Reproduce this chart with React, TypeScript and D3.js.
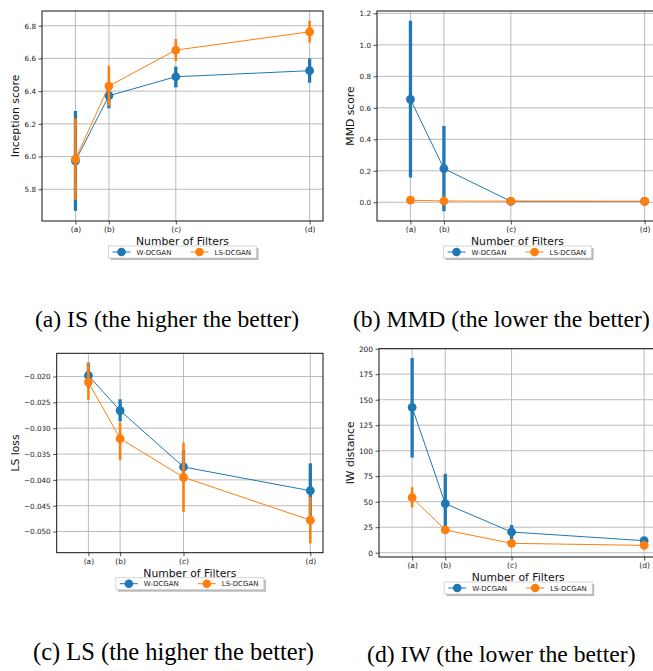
import React, { useEffect, useRef } from 'react';
import * as d3 from 'd3';

// x categories: number of filters
const filterLabels = ['(a)', '(b)', '(c)', '(d)'];
const filterX = [1, 2, 4, 8];
const seriesNames = ['W-DCGAN', 'LS-DCGAN'];

// (a) Inception score
const isW = [5.973, 6.372, 6.488, 6.525];
const isWLo = [5.668, 6.295, 6.423, 6.452];
const isWHi = [6.279, 6.45, 6.55, 6.6];
const isLS = [5.985, 6.431, 6.651, 6.763];
const isLSLo = [5.735, 6.31, 6.584, 6.696];
const isLSHi = [6.234, 6.556, 6.719, 6.83];

// (b) MMD score
const mmdW = [0.654, 0.214, 0.006, 0.006];
const mmdWLo = [0.157, -0.057, -0.004, -0.002];
const mmdWHi = [1.153, 0.485, 0.016, 0.012];
const mmdLS = [0.013, 0.008, 0.007, 0.005];
const mmdLSLo = [0.006, 0.003, 0.003, 0.002];
const mmdLSHi = [0.02, 0.013, 0.011, 0.008];

// (c) LS loss
const lsW = [-0.0198, -0.0266, -0.0375, -0.0421];
const lsWLo = [-0.0222, -0.0287, -0.0404, -0.0472];
const lsWHi = [-0.0173, -0.0244, -0.0342, -0.0368];
const lsLS = [-0.0211, -0.032, -0.0395, -0.0478];
const lsLSLo = [-0.0245, -0.0362, -0.0462, -0.0523];
const lsLSHi = [-0.0174, -0.0289, -0.0328, -0.0433];

// (d) IW distance
const iwW = [142.4, 48.1, 20.3, 11.8];
const iwWLo = [93.3, 25.5, 13.4, 9];
const iwWHi = [190.8, 77.3, 27.2, 14.5];
const iwLS = [54, 22.3, 9.2, 7.2];
const iwLSLo = [44.2, 18.3, 7.5, 5.8];
const iwLSHi = [64.2, 25.5, 11, 8.6];

// y tick values
const isTicks = [5.8, 6.0, 6.2, 6.4, 6.6, 6.8];
const mmdTicks = [0.0, 0.2, 0.4, 0.6, 0.8, 1.0, 1.2];
const lsTicks = [-0.05, -0.045, -0.04, -0.035, -0.03, -0.025, -0.02];
const iwTicks = [0, 25, 50, 75, 100, 125, 150, 175, 200];

const colors = ['#1f77b4', '#ff7f0e'];

const panels = [
  {
    box: { l: 42, t: 11, r: 323, b: 221 }, yDomain: [5.606, 6.89], ticks: isTicks, fmt: d3.format('.1f'),
    yLabel: 'Inception score', yLabelX: 15, tickSize: 7.2,
    series: [[isW, isWLo, isWHi], [isLS, isLSLo, isLSHi]],
    caption: '(a) IS (the higher the better)', cap: { x: 35, y: 327, s: 23.6 },
  },
  {
    box: { l: 377, t: 11, r: 658, b: 221 }, yDomain: [-0.119, 1.215], ticks: mmdTicks, fmt: d3.format('.1f'),
    yLabel: 'MMD score', yLabelX: 350, tickSize: 7.2,
    series: [[mmdW, mmdWLo, mmdWHi], [mmdLS, mmdLSLo, mmdLSHi]],
    caption: '(b) MMD (the lower the better)', cap: { x: 353, y: 327, s: 23.6 },
  },
  {
    box: { l: 56.7, t: 353.3, r: 323, b: 552.7 }, yDomain: [-0.0541, -0.0155], ticks: lsTicks, fmt: d3.format('.3f'),
    yLabel: 'LS loss', yLabelX: 15, tickSize: 7.2,
    series: [[lsW, lsWLo, lsWHi], [lsLS, lsLSLo, lsLSHi]],
    caption: '(c) LS (the higher the better)', cap: { x: 33, y: 660, s: 24.5 },
  },
  {
    box: { l: 379, t: 348.7, r: 657.4, b: 557 }, yDomain: [-4.2, 200], ticks: iwTicks, fmt: d3.format('d'),
    yLabel: 'IW distance', yLabelX: 350, tickSize: 7.4,
    series: [[iwW, iwWLo, iwWHi], [iwLS, iwLSLo, iwLSHi]],
    caption: '(d) IW (the lower the better)', cap: { x: 367, y: 662, s: 23.7 },
  },
];

export default function App() {
  const ref = useRef<SVGSVGElement>(null);

  useEffect(() => {
    const svg = d3.select(ref.current);
    svg.selectAll('*').remove();
    const font = '"DejaVu Sans", sans-serif';

    panels.forEach((p) => {
      const { l, t, r, b } = p.box;
      const x = d3.scaleLinear().domain([0, 8.4]).range([l, r]);
      const y = d3.scaleLinear().domain(p.yDomain).range([b, t]);
      const g = svg.append('g');

      // grid
      g.selectAll('.gx').data(filterX).join('line')
        .attr('x1', (d) => x(d)).attr('x2', (d) => x(d)).attr('y1', t).attr('y2', b)
        .attr('stroke', '#b0b0b0').attr('stroke-width', 1).attr('opacity', 0.85);
      g.selectAll('.gy').data(p.ticks).join('line')
        .attr('x1', l).attr('x2', r).attr('y1', (d) => y(d)).attr('y2', (d) => y(d))
        .attr('stroke', '#b0b0b0').attr('stroke-width', 1).attr('opacity', 0.85);

      // axes
      const ax = g.append('g').attr('transform', `translate(0,${b})`)
        .call(d3.axisBottom(x).tickValues(filterX).tickFormat((_, i) => filterLabels[i]).tickSize(3.5).tickPadding(2));
      ax.selectAll('text').attr('font-size', 7.5).attr('font-family', font).attr('fill', '#222');
      const ay = g.append('g').attr('transform', `translate(${l},0)`)
        .call(d3.axisLeft(y).tickValues(p.ticks).tickFormat((d) => p.fmt(d as number).replace('-', '\u2212')).tickSize(3.5).tickPadding(2.5));
      ay.selectAll('text').attr('font-size', p.tickSize).attr('font-family', font).attr('fill', '#222');
      [ax, ay].forEach((a) => {
        a.select('.domain').remove();
        a.selectAll('line').attr('stroke', '#222').attr('stroke-width', 0.8);
      });

      // series
      p.series.forEach(([mean, lo, hi], si) => {
        const pts = mean.map((v, i) => [x(filterX[i]), y(v)] as [number, number]);
        g.append('path').attr('d', d3.line()(pts)).attr('fill', 'none')
          .attr('stroke', colors[si]).attr('stroke-width', 1);
        g.selectAll(null).data(mean).join('line')
          .attr('x1', (_, i) => x(filterX[i])).attr('x2', (_, i) => x(filterX[i]))
          .attr('y1', (_, i) => y(lo[i])).attr('y2', (_, i) => y(hi[i]))
          .attr('stroke', colors[si]).attr('stroke-width', si === 0 ? 3.3 : 2.6);
        g.selectAll(null).data(mean).join('circle')
          .attr('cx', (_, i) => x(filterX[i])).attr('cy', (d) => y(d)).attr('r', 4.4)
          .attr('fill', colors[si]);
      });

      // spines
      g.append('rect').attr('x', l).attr('y', t).attr('width', r - l).attr('height', b - t)
        .attr('fill', 'none').attr('stroke', '#111').attr('stroke-width', 1);

      // labels
      g.append('text').attr('x', (l + r) / 2).attr('y', b + 24).attr('text-anchor', 'middle')
        .attr('font-family', font).attr('font-size', 10.8).attr('fill', '#111').text('Number of Filters');
      g.append('text').attr('transform', `translate(${p.yLabelX + 4},${(t + b) / 2}) rotate(-90)`)
        .attr('text-anchor', 'middle').attr('font-family', font).attr('font-size', 10.8).attr('fill', '#111')
        .text(p.yLabel);

      // legend
      const lw = 148, lh = 12;
      const lx = (l + r) / 2 - lw / 2, ly = b + 25;
      const lg = g.append('g').attr('transform', `translate(${lx},${ly})`);
      lg.append('rect').attr('x', 2).attr('y', 2).attr('width', lw).attr('height', lh).attr('fill', '#8a8a8a').attr('opacity', 0.6);
      lg.append('rect').attr('width', lw).attr('height', lh).attr('fill', '#fff').attr('stroke', '#ccc').attr('stroke-width', 0.8);
      seriesNames.forEach((name, si) => {
        const ox = 4 + si * 78;
        lg.append('line').attr('x1', ox).attr('x2', ox + 18).attr('y1', lh / 2).attr('y2', lh / 2)
          .attr('stroke', colors[si]).attr('stroke-width', 1);
        lg.append('circle').attr('cx', ox + 9).attr('cy', lh / 2).attr('r', 4.3).attr('fill', colors[si]);
        lg.append('text').attr('x', ox + 24).attr('y', lh / 2 + 2.5).attr('font-family', font)
          .attr('font-size', 7).attr('fill', '#222').text(name);
      });

      // caption
      svg.append('text').attr('x', p.cap.x).attr('y', p.cap.y).attr('font-family', '"Liberation Serif", serif')
        .attr('font-size', p.cap.s).attr('fill', '#000').text(p.caption);
    });
  }, []);

  return (
    <svg ref={ref} width={653} height={671}
      style={{ position: 'absolute', left: 0, top: 0, background: '#fff', display: 'block' }} />
  );
}
